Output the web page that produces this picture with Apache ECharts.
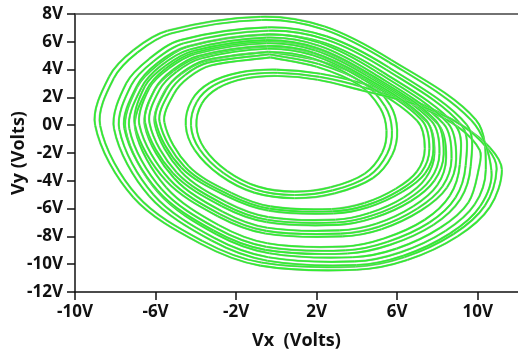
<!DOCTYPE html>
<html>
<head>
<meta charset="utf-8">
<script src="https://cdn.jsdelivr.net/npm/echarts@6/dist/echarts.min.js"></script>
<style>
  html, body { margin: 0; padding: 0; background: #fff; }
  #chart { width: 518px; height: 360px; }
</style>
</head>
<body>
<div id="chart"></div>
<script>
// Phase portrait Vx vs Vy of the oscillator, traced as three consecutive passes.
// Each pass: small inner loop, then an outward jump and inward-spiralling outer turns.

const xTicks = [-10, -6, -2, 2, 6, 10];

// ---- pass A ----
const innerA = [[-0.39,5.29],[2.2,4.6],[4.4,3.3],[5.65,1.45],[6.0,-0.35],[5.75,-2.15],[4.8,-3.8],[2.9,-4.9],[0.9,-5.25],[-1.1,-4.85],[-2.8,-3.6],[-4.05,-1.8],[-4.5,0.0],[-4.2,1.8],[-3.3,3.05],[-1.8,3.8],[0,4.0],[2.2,3.7],[4.65,2.85],[7.1,1.6],[9.2,0.0],[10.6,-1.6]];
const turnA1 = [[11.2,-3.2],[10.6,-5.9],[9.0,-8.0],[6.5,-9.7],[4.0,-10.4],[-0.8,-10.1],[-3.8,-8.5],[-7.1,-5.2],[-9.0,0.0],[-8.3,3.5],[-7.1,5.4],[-5.4,6.8],[-0.8,7.8],[2.4,7.1],[5.7,4.7],[9.9,0.4]];
const turnA2 = [[10.4,-3.2],[9.85,-5.7],[8.4,-7.6],[6.15,-9.15],[3.9,-9.8],[-0.4,-9.5],[-3.1,-8.1],[-6.1,-5.0],[-7.8,-0.3],[-7.2,2.9],[-6.1,4.6],[-4.6,5.9],[-0.4,6.8],[2.46,6.17],[5.45,4.0],[9.2,0.0]];
const turnA3 = [[9.4,-2.9],[8.9,-5.2],[7.6,-7.0],[5.5,-8.4],[3.45,-9.0],[-0.5,-8.75],[-3.0,-7.4],[-5.7,-4.6],[-7.3,-0.25],[-6.7,2.7],[-5.73,4.28],[-4.3,5.45],[-0.5,6.3],[2.12,5.72],[4.85,3.7],[8.3,0.1]];
const turnA4 = [[8.7,-2.4],[8.25,-4.4],[7.0,-6.0],[5.1,-7.3],[3.2,-7.8],[-0.5,-7.6],[-2.8,-6.4],[-5.3,-3.9],[-6.8,0.0],[-6.3,2.7],[-5.34,4.09],[-4.0,5.15],[-0.5,5.9],[1.94,5.38],[4.5,3.55],[7.7,0.3]];
const turnA5 = [[8.1,-2.05],[7.65,-3.9],[6.5,-5.35],[4.75,-6.5],[3.0,-7.0],[-0.45,-6.8],[-2.6,-5.7],[-4.95,-3.4],[-6.3,0.15],[-5.8,2.55],[-4.95,3.85],[-3.75,4.8],[-0.45,5.5],[1.82,5.03],[4.2,3.4],[7.2,0.4]];
const turnA6 = [[7.6,-1.7],[7.2,-3.4],[6.1,-4.7],[4.5,-5.75],[2.8,-6.2],[-0.35,-6.0],[-2.35,-5.0],[-4.55,-3.0],[-5.8,0.25],[-5.3,2.4],[-4.54,3.61],[-3.4,4.5],[-0.35,5.1]];

// ---- pass B ----
const innerB = [[-0.35,5.1],[2.1,4.4],[4.25,3.1],[5.4,1.35],[5.74,-0.36],[5.5,-2.07],[4.6,-3.64],[2.79,-4.69],[0.89,-5.02],[-1.01,-4.64],[-2.62,-3.45],[-3.81,-1.74],[-4.24,-0.03],[-3.95,1.68],[-3.1,2.87],[-1.67,3.58],[0.04,3.77],[2.13,3.48],[4.45,2.68],[7.0,1.4],[9.0,-0.1],[10.1,-1.8]];
const turnB2 = [[10.05,-3.15],[9.54,-5.55],[8.14,-7.38],[5.97,-8.88],[3.8,-9.5],[-0.35,-9.21],[-2.96,-7.86],[-5.85,-4.87],[-7.49,-0.34],[-6.91,2.75],[-5.85,4.39],[-4.4,5.65],[-0.35,6.52],[2.41,5.91],[5.29,3.81],[8.91,-0.05]];
const turnB3 = [[9.11,-2.84],[8.62,-5.06],[7.37,-6.8],[5.34,-8.15],[3.36,-8.73],[-0.45,-8.49],[-2.86,-7.19],[-5.47,-4.48],[-7.01,-0.29],[-6.43,2.56],[-5.49,4.08],[-4.11,5.21],[-0.45,6.03],[2.08,5.47],[4.72,3.52],[8.04,0.05]];
const turnB4 = [[8.43,-2.36],[8.0,-4.29],[6.79,-5.84],[4.96,-7.09],[3.12,-7.57],[-0.45,-7.38],[-2.67,-6.22],[-5.08,-3.81],[-6.53,-0.05],[-6.04,2.56],[-5.12,3.9],[-3.82,4.92],[-0.45,5.65],[1.91,5.15],[4.38,3.38],[7.47,0.24]];
const turnB5 = [[7.85,-2.02],[7.42,-3.81],[6.31,-5.21],[4.62,-6.32],[2.93,-6.8],[-0.4,-6.61],[-2.47,-5.55],[-4.74,-3.33],[-6.04,0.1],[-5.56,2.42],[-4.74,3.67],[-3.58,4.59],[-0.4,5.26],[1.79,4.81],[4.09,3.24],[6.98,0.34]];
const turnB6 = [[7.37,-1.69],[6.98,-3.33],[5.92,-4.58],[4.38,-5.59],[2.74,-6.03],[-0.3,-5.84],[-2.23,-4.87],[-4.36,-2.94],[-5.56,0.2],[-5.08,2.27],[-4.35,3.44],[-3.25,4.3],[-0.3,4.88]];

// ---- pass C ----
const innerC = [[-0.3,4.88],[2.0,4.2],[4.1,2.9],[5.15,1.25],[5.47,-0.38],[5.25,-1.99],[4.39,-3.48],[2.68,-4.47],[0.88,-4.78],[-0.91,-4.42],[-2.44,-3.3],[-3.57,-1.68],[-3.97,-0.06],[-3.7,1.56],[-2.89,2.68],[-1.54,3.36],[0.08,3.54],[2.05,3.27],[4.26,2.5],[6.9,1.5],[9.1,0.1],[10.5,-1.7]];
const turnC1 = [[10.94,-3.15],[10.36,-5.78],[8.8,-7.83],[6.36,-9.49],[3.92,-10.17],[-0.75,-9.88],[-3.68,-8.32],[-6.9,-5.1],[-8.75,-0.03],[-8.07,3.38],[-6.9,5.23],[-5.24,6.6],[-0.75,7.57],[2.36,6.89],[5.58,4.55],[9.68,0.36]];
const turnC2 = [[10.68,-3.26],[10.12,-5.83],[8.62,-7.79],[6.3,-9.39],[3.99,-10.06],[-0.44,-9.75],[-3.22,-8.3],[-6.31,-5.11],[-8.06,-0.27],[-7.45,3.03],[-6.31,4.78],[-4.77,6.12],[-0.44,7.04],[2.5,6.39],[5.58,4.16],[9.45,0.04]];
const turnC3 = [[9.65,-2.95],[9.14,-5.32],[7.8,-7.17],[5.64,-8.61],[3.52,-9.23],[-0.55,-8.97],[-3.12,-7.58],[-5.9,-4.7],[-7.55,-0.22],[-6.93,2.82],[-5.93,4.45],[-4.46,5.65],[-0.55,6.53],[2.15,5.93],[4.97,3.85],[8.52,0.14]];
const turnC4 = [[8.93,-2.43],[8.47,-4.49],[7.18,-6.14],[5.22,-7.48],[3.27,-8.0],[-0.55,-7.79],[-2.91,-6.55],[-5.49,-3.98],[-7.03,0.04],[-6.52,2.82],[-5.53,4.25],[-4.15,5.34],[-0.55,6.12],[1.97,5.58],[4.61,3.7],[7.9,0.35]];
const turnC5 = [[8.31,-2.07],[7.85,-3.98],[6.67,-5.47],[4.86,-6.66],[3.06,-7.17],[-0.49,-6.97],[-2.71,-5.83],[-5.13,-3.46],[-6.52,0.19],[-6.0,2.67],[-5.13,4.0],[-3.89,4.98],[-0.49,5.7],[1.84,5.22],[4.3,3.54],[7.39,0.45]];
const turnC6 = [[7.8,-1.71],[7.39,-3.46],[6.25,-4.8],[4.61,-5.88],[2.85,-6.35],[-0.39,-6.14],[-2.45,-5.11],[-4.72,-3.05],[-6.0,0.3],[-5.49,2.51],[-4.71,3.76],[-3.53,4.67],[-0.39,5.29]];

const passA = [].concat(innerA, turnA1, turnA2, turnA3, turnA4, turnA5, turnA6);
const passB = [].concat(innerB, turnB2, turnB3, turnB4, turnB5, turnB6);
const passC = [].concat(innerC, turnC1, turnC2, turnC3, turnC4, turnC5, turnC6);

const FONT = '"Open Sans", "Liberation Sans", Arial, sans-serif';
const TRACE = '#30ee30';
const TRACE_EDGE = '#9cc69c';

const chart = echarts.init(document.getElementById('chart'), null, { renderer: 'canvas' });

function dist(a, b) {
  return Math.hypot(b[0] - a[0], b[1] - a[1]);
}

// Each sample is joined to the next one with a cubic whose handles follow the
// neighbouring samples (chord-length weighted), positioned through the
// cartesian axes (api.coord). A faint greyish rim under the bright stroke
// gives the scope-trace look.
function trace(name, pts) {
  return {
    name: name,
    type: 'custom',
    coordinateSystem: 'cartesian2d',
    silent: true,
    clip: true,
    encode: { x: 0, y: 1 },
    data: pts,
    renderItem: function (params, api) {
      const i = params.dataIndex;
      if (i >= pts.length - 1) return null;
      const p0 = api.coord(pts[Math.max(i - 1, 0)]);
      const p1 = api.coord([api.value(0), api.value(1)]);
      const p2 = api.coord(pts[i + 1]);
      const p3 = api.coord(pts[Math.min(i + 2, pts.length - 1)]);
      const d01 = dist(p0, p1), d12 = dist(p1, p2), d23 = dist(p2, p3);
      const k1 = d12 / (3 * Math.max(d01 + d12, 1e-6));
      const k2 = d12 / (3 * Math.max(d12 + d23, 1e-6));
      const shape = {
        x1: p1[0], y1: p1[1],
        x2: p2[0], y2: p2[1],
        cpx1: p1[0] + (p2[0] - p0[0]) * k1,
        cpy1: p1[1] + (p2[1] - p0[1]) * k1,
        cpx2: p2[0] - (p3[0] - p1[0]) * k2,
        cpy2: p2[1] - (p3[1] - p1[1]) * k2
      };
      return {
        type: 'group',
        children: [
          { type: 'bezierCurve', shape: shape, style: { fill: 'none', stroke: TRACE_EDGE, lineWidth: 2.2 } },
          { type: 'bezierCurve', shape: shape, style: { fill: 'none', stroke: TRACE, lineWidth: 1.6 } }
        ]
      };
    }
  };
}

chart.setOption({
  animation: false,
  backgroundColor: '#ffffff',
  grid: { left: 75, right: 0, top: 14, bottom: 68, containLabel: false, outerBoundsMode: 'none' },
  xAxis: [
    {
      type: 'value',
      position: 'bottom',
      min: -10,
      max: 12,
      interval: 2,
      name: 'Vx  (Volts)',
      nameLocation: 'middle',
      nameGap: 40,
      nameMoveOverlap: false,
      nameTextStyle: { fontFamily: FONT, fontWeight: 'bold', fontSize: 18, color: '#111' },
      axisLine: { onZero: false, lineStyle: { color: '#111', width: 1.5 } },
      axisTick: { show: true, customValues: xTicks, length: 8, lineStyle: { color: '#111', width: 1.5 } },
      axisLabel: {
        customValues: xTicks,
        margin: 12,
        fontFamily: FONT, fontWeight: 'bold', fontSize: 17, color: '#111',
        formatter: v => v + 'V'
      },
      splitLine: { show: false }
    },
    {
      type: 'value',
      position: 'top',
      min: -10,
      max: 12,
      axisLine: { show: true, onZero: false, lineStyle: { color: '#444', width: 1.5 } },
      axisTick: { show: false },
      axisLabel: { show: false },
      splitLine: { show: false }
    }
  ],
  yAxis: {
    type: 'value',
    min: -12,
    max: 8,
    interval: 2,
    name: 'Vy (Volts)',
    nameLocation: 'middle',
    nameGap: 47,
    nameRotate: 90,
    nameMoveOverlap: false,
    nameTextStyle: { fontFamily: FONT, fontWeight: 'bold', fontSize: 18, color: '#111' },
    axisLine: { show: true, onZero: false, lineStyle: { color: '#111', width: 1.5 } },
    axisTick: { show: true, length: 8, lineStyle: { color: '#111', width: 1.5 } },
    axisLabel: {
      margin: 12,
      fontFamily: FONT, fontWeight: 'bold', fontSize: 17, color: '#111',
      formatter: v => v + 'V'
    },
    splitLine: { show: false }
  },
  series: [trace('pass A', passA), trace('pass B', passB), trace('pass C', passC)]
});
</script>
</body>
</html>
